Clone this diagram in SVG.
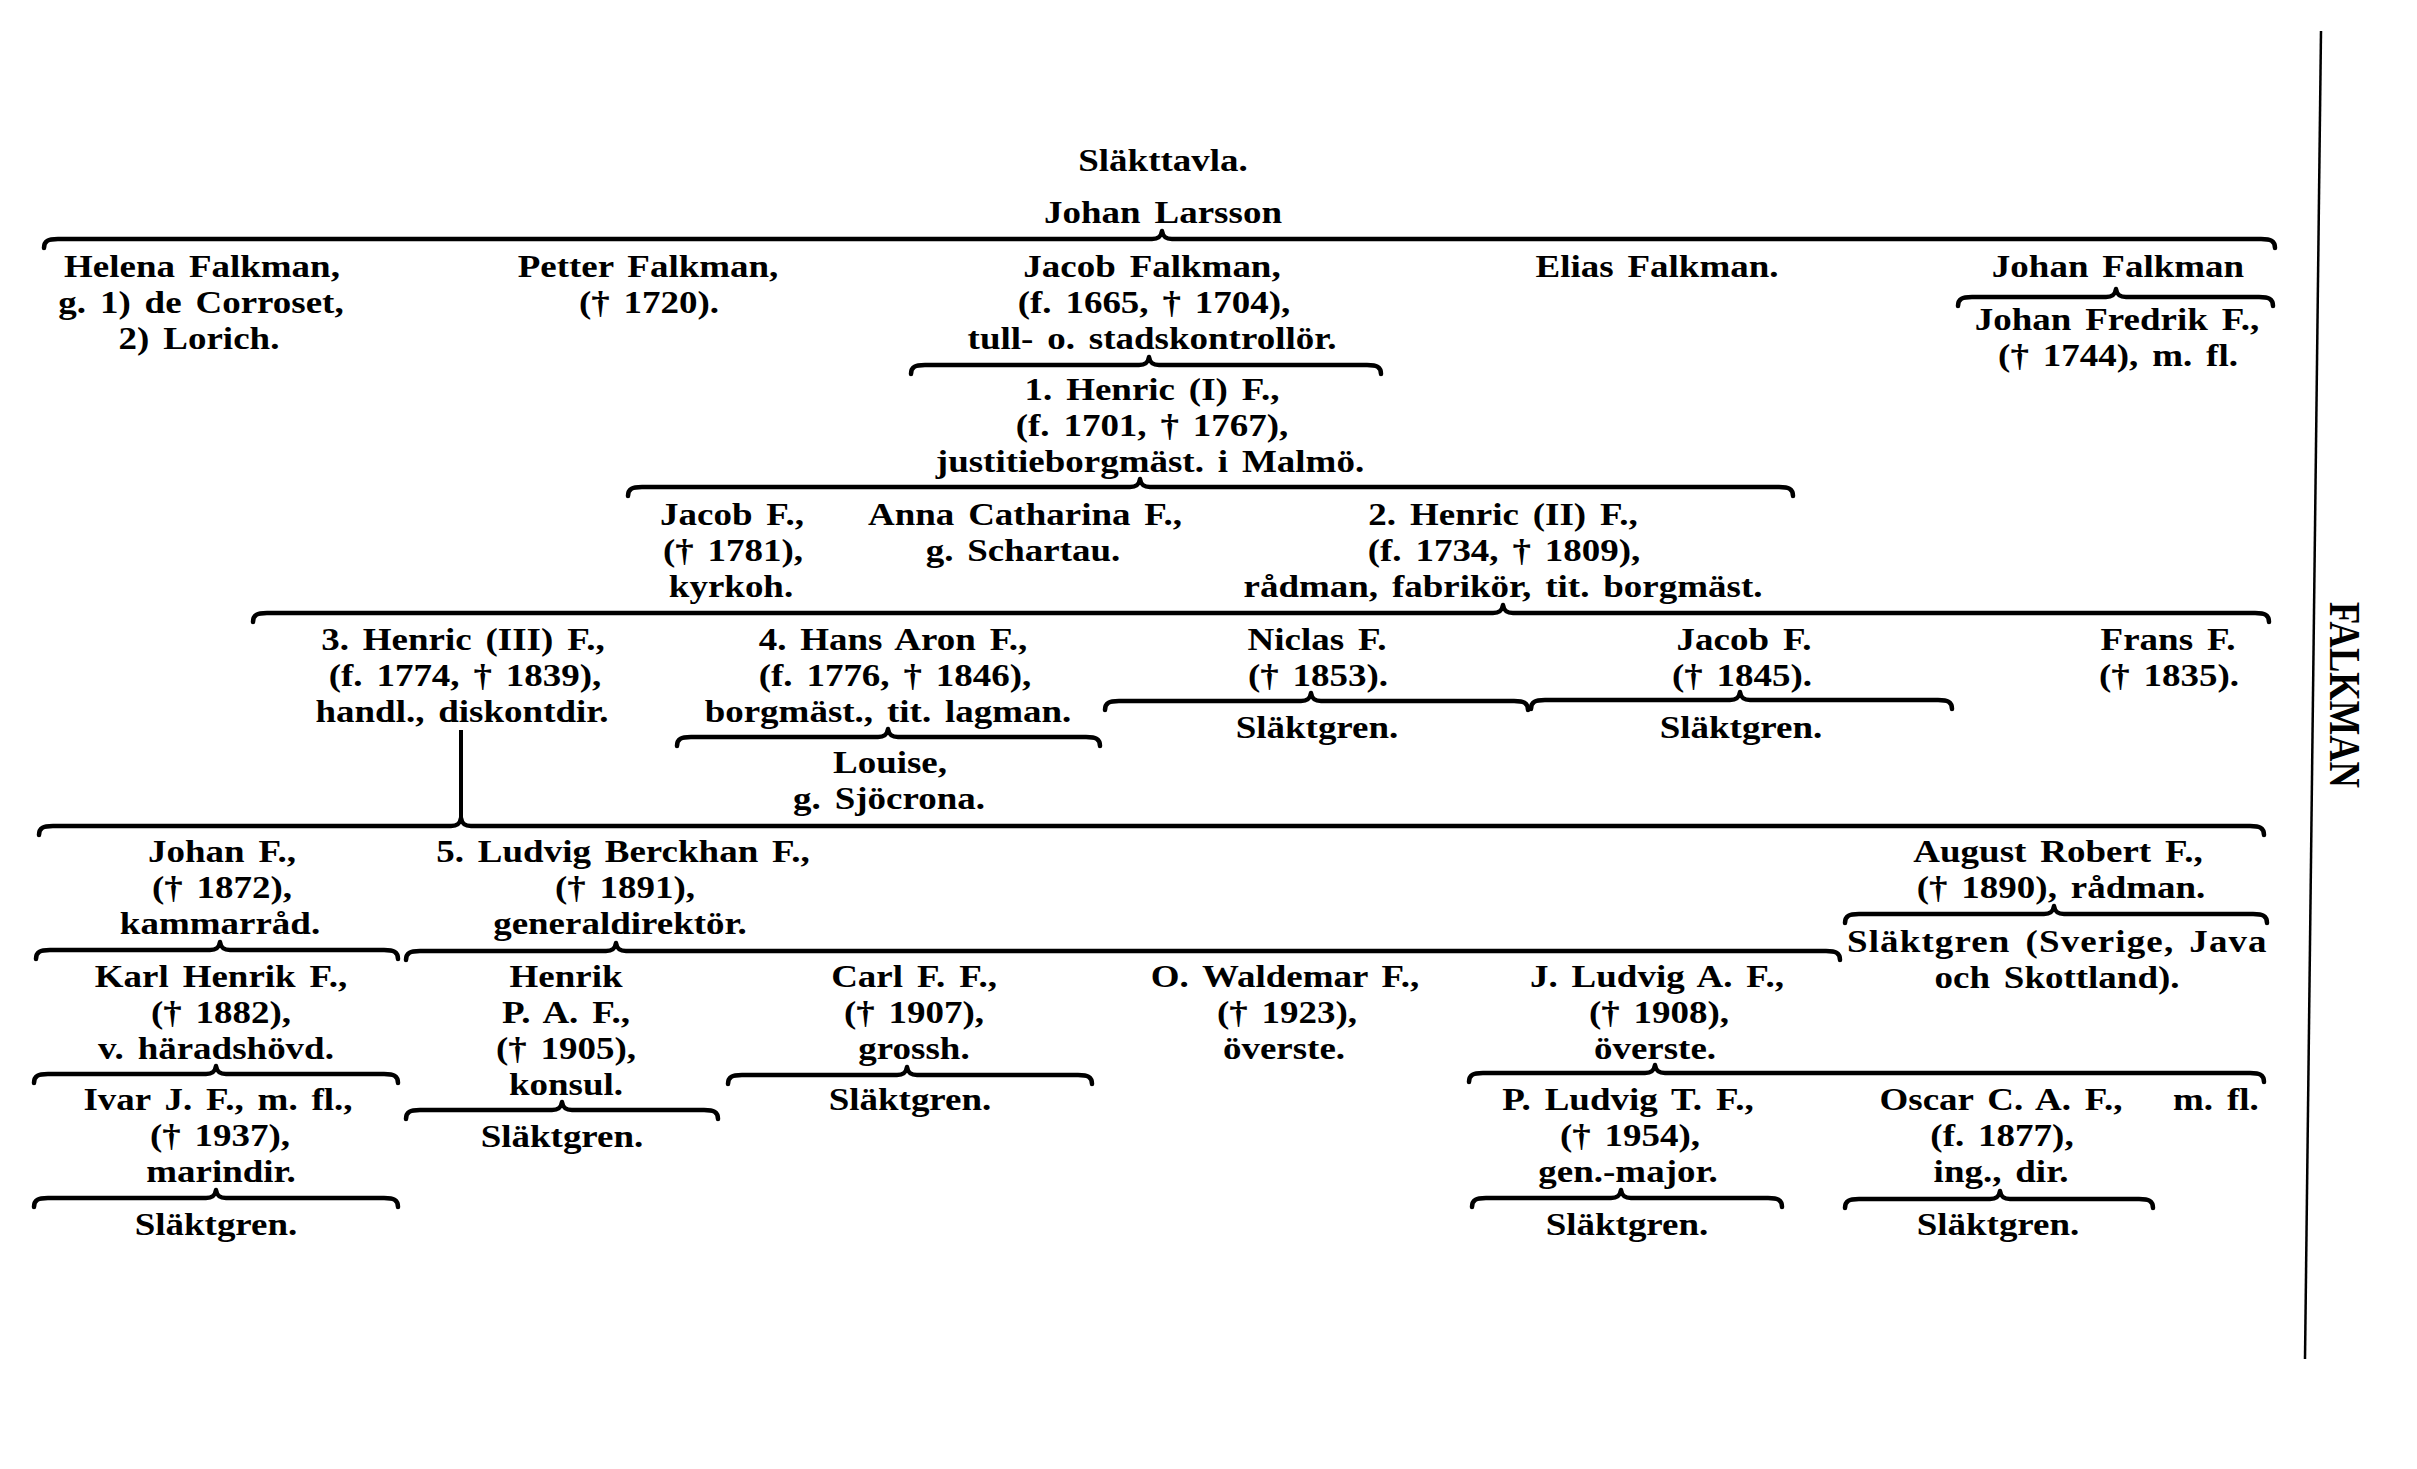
<svg xmlns="http://www.w3.org/2000/svg" width="2417" height="1469" viewBox="0 0 2417 1469">
<style>
.t{font-family:"Liberation Serif","Times New Roman",serif;font-weight:bold;font-size:32px;fill:#000;text-anchor:middle;word-spacing:4px}
.s{text-anchor:start}
.b{fill:none;stroke:#000;stroke-width:4.5;stroke-linecap:round;stroke-linejoin:round}
.v{fill:none;stroke:#000;stroke-width:4}
.r{fill:none;stroke:#000;stroke-width:2.5}
.k{font-family:"Liberation Serif","Times New Roman",serif;font-weight:bold;font-size:44px;fill:#000;text-anchor:middle}
</style>
<rect width="2417" height="1469" fill="#fff"/>
<g id="connectors">
<path class="b" d="M44,248 C44,241 48,239 58,239 L1152,239 C1158,239 1161,237 1162,231 C1163,237 1166,239 1172,239 L2261,239 C2271,239 2275,241 2275,248"/>
<path class="b" d="M1958,306 C1958,299 1962,297 1972,297 L2106,297 C2112,297 2115,295 2116,289 C2117,295 2120,297 2126,297 L2259,297 C2269,297 2273,299 2273,306"/>
<path class="b" d="M911,374 C911,367 915,365 925,365 L1139,365 C1145,365 1148,363 1149,357 C1150,363 1153,365 1159,365 L1367,365 C1377,365 1381,367 1381,374"/>
<path class="b" d="M628,496 C628,489 632,487 642,487 L1130,487 C1136,487 1139,485 1140,479 C1141,485 1144,487 1150,487 L1779,487 C1789,487 1793,489 1793,496"/>
<path class="b" d="M253,622 C253,615 257,613 267,613 L1493,613 C1499,613 1502,611 1503,605 C1504,611 1507,613 1513,613 L2255,613 C2265,613 2269,615 2269,622"/>
<path class="b" d="M677,746 C677,739 681,737 691,737 L878,737 C884,737 887,735 888,729 C889,735 892,737 898,737 L1086,737 C1096,737 1100,739 1100,746"/>
<path class="b" d="M1105,710 C1105,703 1109,701 1119,701 L1301,701 C1307,701 1310,699 1311,693 C1312,699 1315,701 1321,701 L1514,701 C1524,701 1528,703 1528,710"/>
<path class="b" d="M1531,709 C1531,702 1535,700 1545,700 L1730,700 C1736,700 1739,698 1740,692 C1741,698 1744,700 1750,700 L1938,700 C1948,700 1952,702 1952,709"/>
<path class="v" d="M461,730 L461,820"/>
<path class="b" d="M39,835 C39,828 43,826 53,826 L451,826 C457,826 460,824 461,818 C462,824 465,826 471,826 L2250,826 C2260,826 2264,828 2264,835"/>
<path class="b" d="M36,959 C36,952 40,950 50,950 L210,950 C216,950 219,948 220,942 C221,948 224,950 230,950 L384,950 C394,950 398,952 398,959"/>
<path class="b" d="M406,960 C406,953 410,951 420,951 L606,951 C612,951 615,949 616,943 C617,949 620,951 626,951 L1826,951 C1836,951 1840,953 1840,960"/>
<path class="b" d="M1845,923 C1845,916 1849,914 1859,914 L2044,914 C2050,914 2053,912 2054,906 C2055,912 2058,914 2064,914 L2253,914 C2263,914 2267,916 2267,923"/>
<path class="b" d="M34,1083 C34,1076 38,1074 48,1074 L206,1074 C212,1074 215,1072 216,1066 C217,1072 220,1074 226,1074 L384,1074 C394,1074 398,1076 398,1083"/>
<path class="b" d="M406,1119 C406,1112 410,1110 420,1110 L552,1110 C558,1110 561,1108 562,1102 C563,1108 566,1110 572,1110 L704,1110 C714,1110 718,1112 718,1119"/>
<path class="b" d="M728,1084 C728,1077 732,1075 742,1075 L897,1075 C903,1075 906,1073 907,1067 C908,1073 911,1075 917,1075 L1078,1075 C1088,1075 1092,1077 1092,1084"/>
<path class="b" d="M1469,1082 C1469,1075 1473,1073 1483,1073 L1645,1073 C1651,1073 1654,1071 1655,1065 C1656,1071 1659,1073 1665,1073 L2250,1073 C2260,1073 2264,1075 2264,1082"/>
<path class="b" d="M34,1207 C34,1200 38,1198 48,1198 L206,1198 C212,1198 215,1196 216,1190 C217,1196 220,1198 226,1198 L384,1198 C394,1198 398,1200 398,1207"/>
<path class="b" d="M1472,1207 C1472,1200 1476,1198 1486,1198 L1611,1198 C1617,1198 1620,1196 1621,1190 C1622,1196 1625,1198 1631,1198 L1768,1198 C1778,1198 1782,1200 1782,1207"/>
<path class="b" d="M1845,1208 C1845,1201 1849,1199 1859,1199 L1990,1199 C1996,1199 1999,1197 2000,1191 C2001,1197 2004,1199 2010,1199 L2139,1199 C2149,1199 2153,1201 2153,1208"/>
</g>
<g id="frame">
<path class="r" d="M2321,31 L2305,1359"/>
<text class="k" transform="translate(2330,695) rotate(90)" x="0" y="0" textLength="186" lengthAdjust="spacingAndGlyphs">FALKMAN</text>
</g>
<g id="title"><text class="t" transform="translate(1163 171) scale(1.156 1)">Släkttavla.</text></g>
<g id="n-johan-larsson"><text class="t" transform="translate(1163 223) scale(1.156 1)">Johan Larsson</text></g>
<g id="n-helena">
<text class="t" transform="translate(202 277) scale(1.156 1)">Helena Falkman,</text>
<text class="t" transform="translate(201 313) scale(1.156 1)">g. 1) de Corroset,</text>
<text class="t" transform="translate(199 349) scale(1.156 1)">2) Lorich.</text>
</g>
<g id="n-petter">
<text class="t" transform="translate(648 277) scale(1.156 1)">Petter Falkman,</text>
<text class="t" transform="translate(649 313) scale(1.156 1)">(† 1720).</text>
</g>
<g id="n-jacob-falkman">
<text class="t" transform="translate(1152 277) scale(1.156 1)">Jacob Falkman,</text>
<text class="t" transform="translate(1154 313) scale(1.156 1)">(f. 1665, † 1704),</text>
<text class="t" transform="translate(1152 349) scale(1.156 1)">tull- o. stadskontrollör.</text>
</g>
<g id="n-elias"><text class="t" transform="translate(1657 277) scale(1.156 1)">Elias Falkman.</text></g>
<g id="n-johan-falkman"><text class="t" transform="translate(2118 277) scale(1.156 1)">Johan Falkman</text></g>
<g id="n-johan-fredrik">
<text class="t" transform="translate(2117 330) scale(1.156 1)">Johan Fredrik F.,</text>
<text class="t" transform="translate(2118 366) scale(1.156 1)">(† 1744), m. fl.</text>
</g>
<g id="n-henric1">
<text class="t" transform="translate(1152 400) scale(1.156 1)">1. Henric (I) F.,</text>
<text class="t" transform="translate(1152 436) scale(1.156 1)">(f. 1701, † 1767),</text>
<text class="t" transform="translate(1150 472) scale(1.156 1)">justitieborgmäst. i Malmö.</text>
</g>
<g id="n-jacob-f1">
<text class="t" transform="translate(732 525) scale(1.156 1)">Jacob F.,</text>
<text class="t" transform="translate(733 561) scale(1.156 1)">(† 1781),</text>
<text class="t" transform="translate(731 597) scale(1.156 1)">kyrkoh.</text>
</g>
<g id="n-anna">
<text class="t" transform="translate(1025 525) scale(1.156 1)">Anna Catharina F.,</text>
<text class="t" transform="translate(1023 561) scale(1.156 1)">g. Schartau.</text>
</g>
<g id="n-henric2">
<text class="t" transform="translate(1503 525) scale(1.156 1)">2. Henric (II) F.,</text>
<text class="t" transform="translate(1504 561) scale(1.156 1)">(f. 1734, † 1809),</text>
<text class="t" transform="translate(1503 597) scale(1.156 1)">rådman, fabrikör, tit. borgmäst.</text>
</g>
<g id="n-henric3">
<text class="t" transform="translate(463 650) scale(1.156 1)">3. Henric (III) F.,</text>
<text class="t" transform="translate(465 686) scale(1.156 1)">(f. 1774, † 1839),</text>
<text class="t" transform="translate(462 722) scale(1.156 1)">handl., diskontdir.</text>
</g>
<g id="n-hans-aron">
<text class="t" transform="translate(893 650) scale(1.156 1)">4. Hans Aron F.,</text>
<text class="t" transform="translate(895 686) scale(1.156 1)">(f. 1776, † 1846),</text>
<text class="t" transform="translate(888 722) scale(1.156 1)">borgmäst., tit. lagman.</text>
</g>
<g id="n-niclas">
<text class="t" transform="translate(1317 650) scale(1.156 1)">Niclas F.</text>
<text class="t" transform="translate(1318 686) scale(1.156 1)">(† 1853).</text>
</g>
<g id="n-niclas-gren"><text class="t" transform="translate(1317 738) scale(1.156 1)">Släktgren.</text></g>
<g id="n-jacob-f2">
<text class="t" transform="translate(1744 650) scale(1.156 1)">Jacob F.</text>
<text class="t" transform="translate(1742 686) scale(1.156 1)">(† 1845).</text>
</g>
<g id="n-jacob-gren"><text class="t" transform="translate(1741 738) scale(1.156 1)">Släktgren.</text></g>
<g id="n-frans">
<text class="t" transform="translate(2168 650) scale(1.156 1)">Frans F.</text>
<text class="t" transform="translate(2169 686) scale(1.156 1)">(† 1835).</text>
</g>
<g id="n-louise">
<text class="t" transform="translate(890 773) scale(1.156 1)">Louise,</text>
<text class="t" transform="translate(889 809) scale(1.156 1)">g. Sjöcrona.</text>
</g>
<g id="n-johan-f">
<text class="t" transform="translate(222 862) scale(1.156 1)">Johan F.,</text>
<text class="t" transform="translate(222 898) scale(1.156 1)">(† 1872),</text>
<text class="t" transform="translate(220 934) scale(1.156 1)">kammarråd.</text>
</g>
<g id="n-ludvig">
<text class="t" transform="translate(623 862) scale(1.156 1)">5. Ludvig Berckhan F.,</text>
<text class="t" transform="translate(625 898) scale(1.156 1)">(† 1891),</text>
<text class="t" transform="translate(620 934) scale(1.156 1)">generaldirektör.</text>
</g>
<g id="n-august">
<text class="t" transform="translate(2058 862) scale(1.156 1)">August Robert F.,</text>
<text class="t" transform="translate(2061 898) scale(1.156 1)">(† 1890), rådman.</text>
</g>
<g id="n-august-gren">
<text class="t s" transform="translate(1847 952) scale(1.156 1)" textLength="363" lengthAdjust="spacing">Släktgren (Sverige, Java</text>
<text class="t" transform="translate(2057 988) scale(1.156 1)">och Skottland).</text>
</g>
<g id="n-karl">
<text class="t" transform="translate(221 987) scale(1.156 1)">Karl Henrik F.,</text>
<text class="t" transform="translate(221 1023) scale(1.156 1)">(† 1882),</text>
<text class="t" transform="translate(216 1059) scale(1.156 1)">v. häradshövd.</text>
</g>
<g id="n-henrik">
<text class="t" transform="translate(566 987) scale(1.156 1)">Henrik</text>
<text class="t" transform="translate(566 1023) scale(1.156 1)">P. A. F.,</text>
<text class="t" transform="translate(566 1059) scale(1.156 1)">(† 1905),</text>
<text class="t" transform="translate(566 1095) scale(1.156 1)">konsul.</text>
</g>
<g id="n-henrik-gren"><text class="t" transform="translate(562 1147) scale(1.156 1)">Släktgren.</text></g>
<g id="n-carl">
<text class="t" transform="translate(914 987) scale(1.156 1)">Carl F. F.,</text>
<text class="t" transform="translate(914 1023) scale(1.156 1)">(† 1907),</text>
<text class="t" transform="translate(914 1059) scale(1.156 1)">grossh.</text>
</g>
<g id="n-carl-gren"><text class="t" transform="translate(910 1110) scale(1.156 1)">Släktgren.</text></g>
<g id="n-waldemar">
<text class="t" transform="translate(1285 987) scale(1.156 1)">O. Waldemar F.,</text>
<text class="t" transform="translate(1287 1023) scale(1.156 1)">(† 1923),</text>
<text class="t" transform="translate(1284 1059) scale(1.156 1)">överste.</text>
</g>
<g id="n-jludvig">
<text class="t" transform="translate(1657 987) scale(1.156 1)">J. Ludvig A. F.,</text>
<text class="t" transform="translate(1659 1023) scale(1.156 1)">(† 1908),</text>
<text class="t" transform="translate(1655 1059) scale(1.156 1)">överste.</text>
</g>
<g id="n-ivar">
<text class="t" transform="translate(218 1110) scale(1.156 1)">Ivar J. F., m. fl.,</text>
<text class="t" transform="translate(220 1146) scale(1.156 1)">(† 1937),</text>
<text class="t" transform="translate(221 1182) scale(1.156 1)">marindir.</text>
</g>
<g id="n-ivar-gren"><text class="t" transform="translate(216 1235) scale(1.156 1)">Släktgren.</text></g>
<g id="n-pludvig">
<text class="t" transform="translate(1628 1110) scale(1.156 1)">P. Ludvig T. F.,</text>
<text class="t" transform="translate(1630 1146) scale(1.156 1)">(† 1954),</text>
<text class="t" transform="translate(1628 1182) scale(1.156 1)">gen.-major.</text>
</g>
<g id="n-pludvig-gren"><text class="t" transform="translate(1627 1235) scale(1.156 1)">Släktgren.</text></g>
<g id="n-oscar">
<text class="t" transform="translate(2001 1110) scale(1.156 1)">Oscar C. A. F.,</text>
<text class="t" transform="translate(2002 1146) scale(1.156 1)">(f. 1877),</text>
<text class="t" transform="translate(2001 1182) scale(1.156 1)">ing., dir.</text>
</g>
<g id="n-mfl"><text class="t s" transform="translate(2173 1110) scale(1.156 1)">m. fl.</text></g>
<g id="n-oscar-gren"><text class="t" transform="translate(1998 1235) scale(1.156 1)">Släktgren.</text></g>
</svg>
